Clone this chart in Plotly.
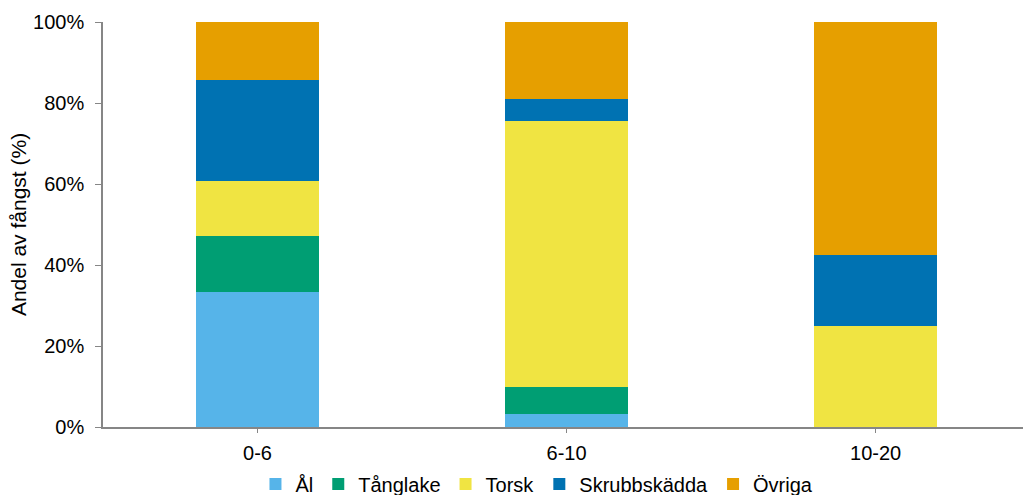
import plotly.graph_objects as go

# Djupintervall (m) och artfördelning av fångsten (%)
depth_classes = ["0-6", "6-10", "10-20"]
species = ["Ål", "Tånglake", "Torsk", "Skrubbskädda", "Övriga"]
al = [33.3, 3.3, 0.0]
tanglake = [13.9, 6.5, 0.0]
torsk = [13.5, 65.8, 25.0]
skrubbskadda = [25.1, 5.4, 17.5]
ovriga = [14.2, 19.0, 57.5]
y_ticks = [0, 20, 40, 60, 80, 100]
y_tick_labels = ["0%", "20%", "40%", "60%", "80%", "100%"]

colors = ["#56B4E9", "#009E73", "#F0E442", "#0072B2", "#E69F00"]
series = [al, tanglake, torsk, skrubbskadda, ovriga]

fig = go.Figure()
for name, vals, col in zip(species, series, colors):
    fig.add_trace(go.Bar(
        x=depth_classes, y=vals, name=name,
        marker=dict(color=col, line=dict(width=0)),
        width=0.4,
    ))

axis_color = "#868686"
font_family = "Liberation Sans, Arial, sans-serif"

fig.update_layout(
    barmode="stack",
    width=1023, height=495,
    margin=dict(l=103, r=0, t=22, b=68, autoexpand=False),
    plot_bgcolor="white", paper_bgcolor="white",
    font=dict(family=font_family, size=20, color="#000000"),
    showlegend=True,
    legend=dict(
        orientation="h", x=0.4717, xanchor="center", y=-0.1407, yanchor="middle",
        font=dict(size=20), itemwidth=30, traceorder="normal",
        bgcolor="rgba(0,0,0,0)",
    ),
    xaxis=dict(
        range=[-0.5, 2.477], showline=True, linecolor=axis_color, linewidth=1.5,
        ticks="outside", tickcolor=axis_color, ticklen=4, tickwidth=1,
        ticklabelstandoff=3,
        showgrid=False, zeroline=False,
    ),
    yaxis=dict(
        range=[0, 100], tickvals=y_ticks, ticktext=y_tick_labels,
        showline=True, linecolor=axis_color, linewidth=1.5,
        ticks="outside", tickcolor=axis_color, ticklen=6, tickwidth=1,
        ticklabelstandoff=7,
        showgrid=False, zeroline=False,
        title=dict(text="Andel av fångst (%)", font=dict(size=21), standoff=1),
    ),
)

fig.write_html("out.html")
